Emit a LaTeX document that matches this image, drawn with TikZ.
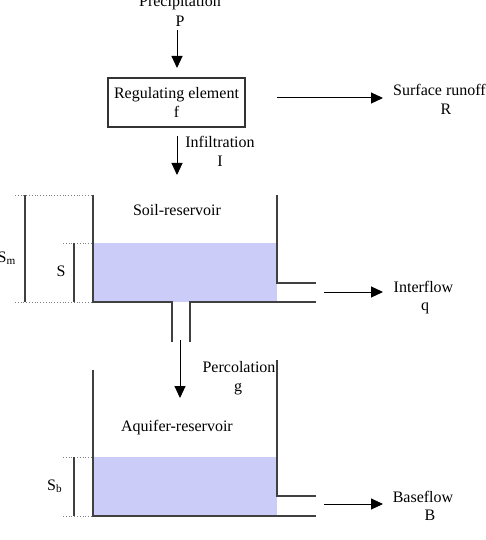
\documentclass[tikz,border=0pt]{standalone}
\usepackage{fontspec}
\setmainfont{Liberation Serif}
\usetikzlibrary{arrows.meta}
\definecolor{water}{RGB}{204,204,248}
\definecolor{wall}{RGB}{64,64,64}
\tikzset{
  lbl/.style={anchor=base, inner sep=0pt, font=\fontsize{16}{19}\selectfont},
  flow/.style={draw=black, line width=1pt, -{Triangle[length=12pt,width=11pt]}},
  wallline/.style={draw=wall, line width=1.5pt},
  dimline/.style={draw=wall, line width=1.2pt},
  dotline/.style={draw=gray, line width=0.8pt, dotted},
  regbox/.style={draw=black!80, line width=1.2pt, minimum width=137pt, minimum height=49pt, align=center, inner sep=0pt, font=\fontsize{16}{19}\selectfont}
}
\begin{document}
\begin{tikzpicture}[x=1pt,y=-1pt]
\useasboundingbox (0,0) rectangle (486,540);
% water fills
\fill[water] (93,243) rectangle (277,302);
\fill[water] (93,457) rectangle (277,516);
% labels
\node[lbl] (prec) at (180,7) {Precipitation};
\node[lbl] (precP) at (180,27) {P};
\node[regbox] (reg) at (176.5,102.5) {Regulating element\\f};
\node[lbl] (surf) at (439.5,96) {Surface runoff};
\node[lbl] (surfR) at (446,115) {R};
\node[lbl] (inf) at (220,148) {Infiltration};
\node[lbl] (infI) at (220,167) {I};
\node[lbl] (soil) at (177,215) {Soil-reservoir};
\node[lbl] (slab) at (61,276) {S};
\node[lbl, anchor=base east] (smlab) at (16,262) {S$_{\mathrm{m}}$};
\node[lbl] (inter) at (423.5,292) {Interflow};
\node[lbl] (interq) at (425,310) {q};
\node[lbl] (perc) at (239,372) {Percolation};
\node[lbl] (percg) at (238,391) {g};
\node[lbl] (aq) at (177,431) {Aquifer-reservoir};
\node[lbl, anchor=base west] (sblab) at (47,490) {S$_{\mathrm{b}}$};
\node[lbl] (base) at (423,502) {Baseflow};
\node[lbl] (baseB) at (430,520) {B};
% flow arrow coordinates
\coordinate (pS) at (177,30);
\coordinate (pE) at (177,68);
\coordinate (iS) at (177,136);
\coordinate (iE) at (177,175);
\coordinate (rS) at (277,98);
\coordinate (rE) at (383,98);
\coordinate (qS) at (324,292);
\coordinate (qE) at (383,292);
\coordinate (gS) at (180,340);
\coordinate (gE) at (180,398);
\coordinate (bS) at (324,504);
\coordinate (bE) at (383,504);
\draw[flow] (pS) -- (pE);
\draw[flow] (iS) -- (iE);
\draw[flow] (rS) -- (rE);
\draw[flow] (qS) -- (qE);
\draw[flow] (gS) -- (gE);
\draw[flow] (bS) -- (bE);
% soil reservoir
\draw[wallline] (93,195) -- (93,302) -- (172,302) -- (172,342);
\draw[wallline] (190,342) -- (190,302) -- (316,302);
\draw[wallline] (277,195) -- (277,283) -- (316,283);
% aquifer reservoir
\draw[wallline] (93,370) -- (93,516) -- (316,516);
\draw[wallline] (277,360) -- (277,496) -- (316,496);
% dimension lines
\draw[dotline] (15,195) -- (93,195);
\draw[dotline] (15,302) -- (93,302);
\draw[dimline] (25,195) -- (25,302);
\draw[dotline] (63,243) -- (93,243);
\draw[dimline] (74,243) -- (74,302);
\draw[dotline] (63,457) -- (93,457);
\draw[dotline] (63,516) -- (93,516);
\draw[dimline] (74,457) -- (74,516);
\end{tikzpicture}
\end{document}
